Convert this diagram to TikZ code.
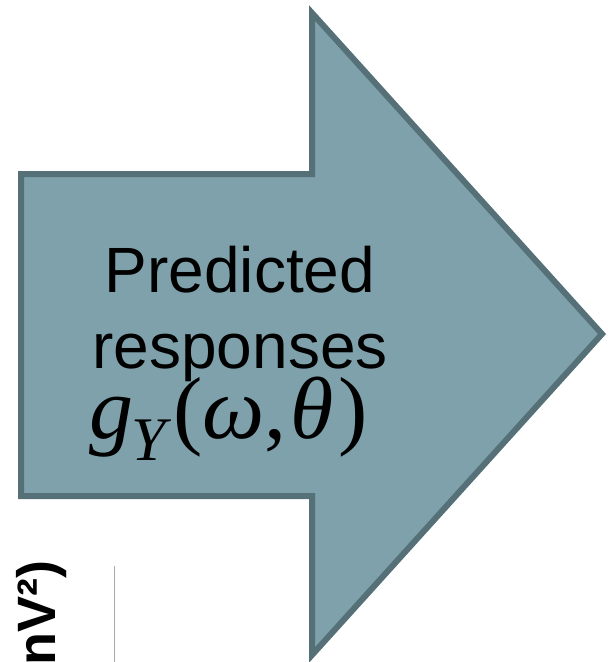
\documentclass[tikz,border=0pt]{standalone}
\usepackage{fontspec}
\setmainfont{Liberation Sans}
\newfontfamily\timesfont{Liberation Serif}
\usetikzlibrary{positioning}

\definecolor{arrowfill}{RGB}{127,161,172}
\definecolor{arrowedge}{RGB}{86,112,120}
\definecolor{axisgray}{RGB}{170,170,170}

\tikzset{
  bigarrow/.style={fill=arrowfill, draw=arrowedge, line width=6pt, line join=miter},
  arrowtext/.style={font=\fontsize{64}{76}\selectfont, align=center, inner sep=0pt},
  mathtext/.style={font=\timesfont\fontsize{88}{88}\selectfont, inner sep=0pt},
  axislabel/.style={font=\bfseries\fontsize{54}{54}\selectfont, rotate=90, inner sep=0pt}
}

\begin{document}
\begin{tikzpicture}[x=1pt, y=-1pt]
  \useasboundingbox (0,0) rectangle (608,662);
  \clip (0,0) rectangle (608,662);

  % block arrow
  \draw[bigarrow] (21,174) -- (312,174) -- (312,13) -- (602,334)
    -- (312,655) -- (312,496) -- (21,496) -- cycle;

  % labels inside the arrow
  \node[arrowtext, anchor=base] (pred) at (240,292) {Predicted};
  \node[arrowtext, anchor=base] (resp) at (240,368) {responses};
  \node[mathtext, anchor=base] (gfun) at (229,438)
    {\itshape g\kern-2pt\raisebox{-22pt}{\fontsize{62}{62}\selectfont Y}\kern7pt\upshape(\itshape ω\upshape,\kern4pt\itshape θ\upshape\kern5pt)};

  % axis label and axis line of the neighbouring plot
  \node[axislabel, anchor=base east] (ylab) at (55,560) {nV²)};
  \coordinate (axtop) at (114,566);
  \coordinate (axbot) at (114,662);
  \draw[axisgray, line width=1pt] (axtop) -- (axbot);
\end{tikzpicture}
\end{document}
